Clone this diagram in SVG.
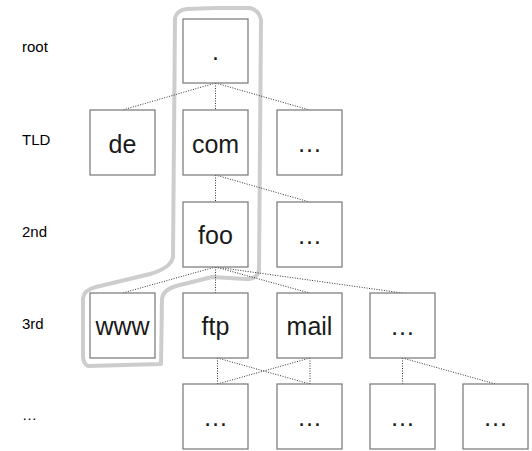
<svg xmlns="http://www.w3.org/2000/svg" width="532" height="451" viewBox="0 0 532 451">
<style>
.box{fill:#fff;stroke:#808080;stroke-width:1.3}
.t{font-family:"Liberation Sans",Arial,sans-serif;font-size:25px;fill:#1a1a1a;text-anchor:middle}
.lbl{font-family:"Liberation Sans",Arial,sans-serif;font-size:15px;fill:#000}
.c{stroke:#333;stroke-width:1;stroke-dasharray:1 1.5;fill:none}
.hl{fill:none;stroke:#cdcdcd;stroke-width:4;stroke-linejoin:round;stroke-linecap:round}
</style>
<rect width="532" height="451" fill="#fff"/>
<path class="hl" d="M175,18 Q177,10 187,9 L215,8 L250,8 Q259,10 261,20 L259,270 Q258,279 246,279 L212,277 L176,286 Q163,290 162,299 L161,364 L88,366 Q83,364 83,355 L83,298 Q84,290 96,287 L150,274 Q171,268 173,257 L175,18 Z"/>
<g id="labels">
<text class="lbl" x="22" y="52">root</text>
<text class="lbl" x="22" y="145">TLD</text>
<text class="lbl" x="22" y="237">2nd</text>
<text class="lbl" x="22" y="329">3rd</text>
<text class="lbl" x="22" y="420">…</text>
</g>
<g id="connectors">
<line class="c" x1="215.5" y1="83" x2="122.5" y2="110"/>
<line class="c" x1="215.5" y1="83" x2="215.5" y2="110"/>
<line class="c" x1="215.5" y1="83" x2="309.5" y2="110"/>
<line class="c" x1="215.5" y1="175" x2="215.5" y2="202"/>
<line class="c" x1="215.5" y1="175" x2="309.5" y2="202"/>
<line class="c" x1="215.5" y1="267" x2="122.5" y2="293"/>
<line class="c" x1="215.5" y1="267" x2="215.5" y2="293"/>
<line class="c" x1="215.5" y1="267" x2="309.5" y2="293"/>
<line class="c" x1="215.5" y1="267" x2="402.5" y2="293"/>
<line class="c" x1="217.5" y1="358" x2="217.5" y2="384"/>
<line class="c" x1="217.5" y1="358" x2="310" y2="384"/>
<line class="c" x1="310" y1="358" x2="217.5" y2="384"/>
<line class="c" x1="310" y1="358" x2="310" y2="384"/>
<line class="c" x1="402.5" y1="358" x2="402.5" y2="384"/>
<line class="c" x1="402.5" y1="358" x2="495.5" y2="384"/>
</g>
<g id="root"><rect class="box" x="183" y="19" width="65" height="64"/><text class="t" x="215.5" y="60">.</text></g>
<g id="de"><rect class="box" x="90" y="110" width="65" height="65"/><text class="t" x="122.5" y="153">de</text></g>
<g id="com"><rect class="box" x="183" y="110" width="65" height="65"/><text class="t" x="215.5" y="153">com</text></g>
<g id="tld-more"><rect class="box" x="277" y="110" width="65" height="65"/><text class="t" x="309.5" y="152">…</text></g>
<g id="foo"><rect class="box" x="183" y="202" width="65" height="65"/><text class="t" x="215.5" y="244">foo</text></g>
<g id="sld-more"><rect class="box" x="277" y="202" width="65" height="65"/><text class="t" x="309.5" y="244">…</text></g>
<g id="www"><rect class="box" x="90" y="293" width="65" height="65"/><text class="t" x="122.5" y="335">www</text></g>
<g id="ftp"><rect class="box" x="183" y="293" width="65" height="65"/><text class="t" x="215.5" y="335">ftp</text></g>
<g id="mail"><rect class="box" x="277" y="293" width="65" height="65"/><text class="t" x="309.5" y="335">mail</text></g>
<g id="third-more"><rect class="box" x="370" y="293" width="65" height="65"/><text class="t" x="402.5" y="335">…</text></g>
<g id="l4a"><rect class="box" x="183" y="384" width="65" height="65"/><text class="t" x="215.5" y="426">…</text></g>
<g id="l4b"><rect class="box" x="277" y="384" width="65" height="65"/><text class="t" x="309.5" y="426">…</text></g>
<g id="l4c"><rect class="box" x="370" y="384" width="65" height="65"/><text class="t" x="402.5" y="426">…</text></g>
<g id="l4d"><rect class="box" x="463" y="384" width="65" height="65"/><text class="t" x="495.5" y="426">…</text></g>
</svg>
